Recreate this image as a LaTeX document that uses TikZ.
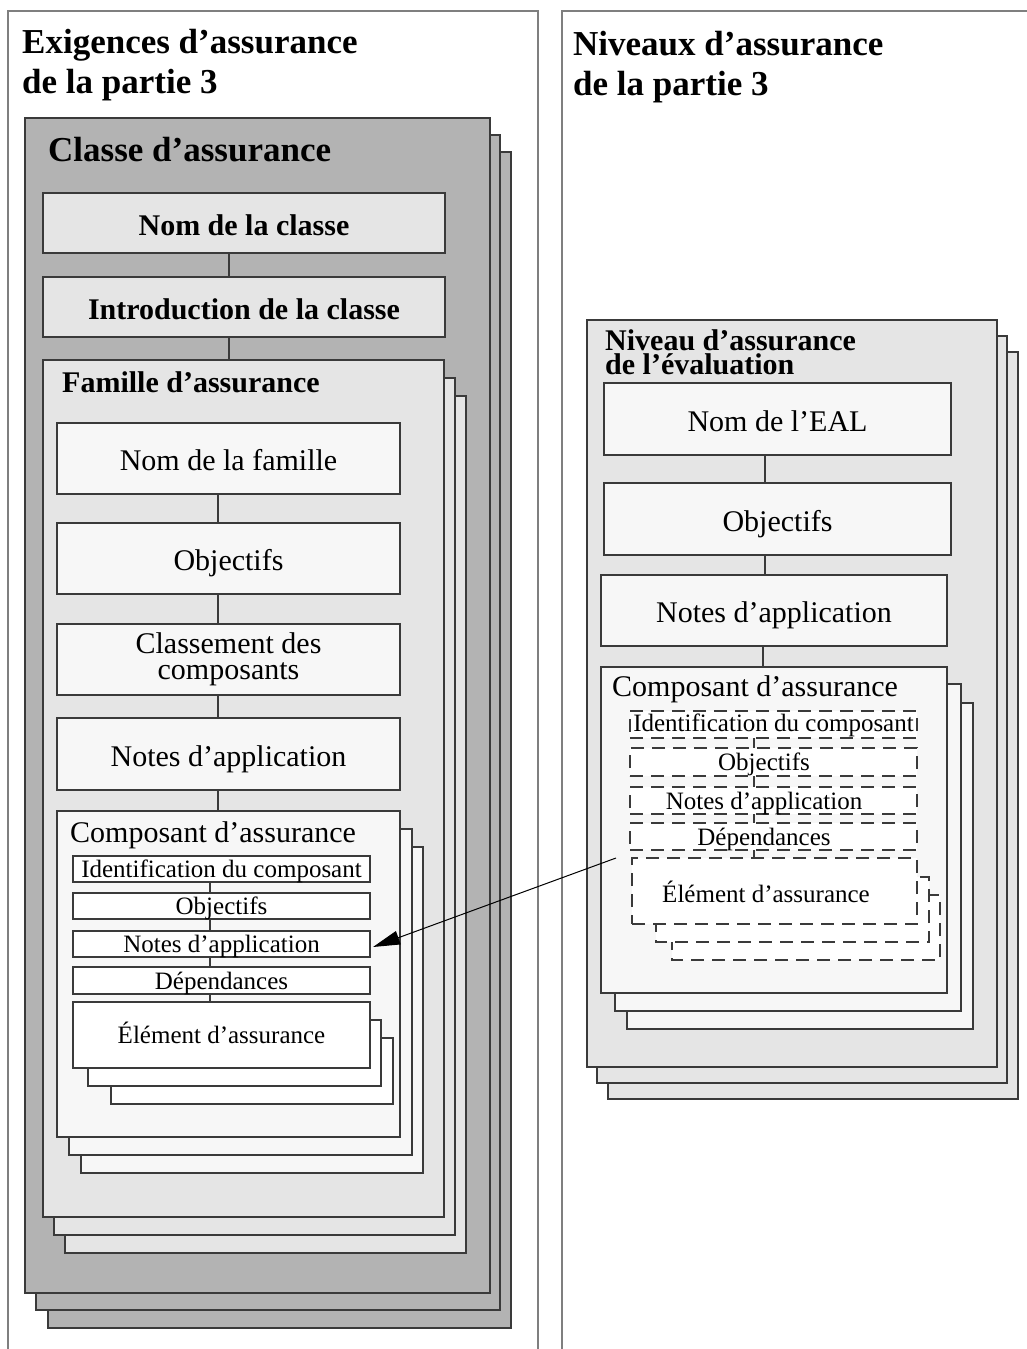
\documentclass[tikz,border=0pt]{standalone}
\usepackage{fontspec}
\setmainfont{Liberation Serif}
\usetikzlibrary{arrows.meta}
\definecolor{classgray}{HTML}{B3B3B3}
\definecolor{famgray}{HTML}{E5E5E5}
\definecolor{paper}{HTML}{F7F7F7}
\definecolor{ink}{HTML}{3A3A3A}
\definecolor{framegray}{HTML}{7F7F7F}
% a sheet lying behind the front sheet of a stack
\newcommand\backsheet[3]{\draw[box,#1] #2 rectangle #3;}
\begin{document}
\begin{tikzpicture}[x=1pt,y=-1pt,
  box/.style={draw=ink, line width=1.1pt, inner sep=0pt, outer sep=0pt},
  sz/.style 2 args={minimum width=#1, minimum height=#2},
  big/.style={font=\fontsize{30}{25}\selectfont, text height=24pt, text depth=0pt},
  bigb/.style={font=\fontsize{30}{25}\selectfont\bfseries, text height=24pt, text depth=0pt},
  small/.style={font=\fontsize{25}{21}\selectfont, text height=17pt, text depth=0pt},
  title/.style={font=\fontsize{35}{40}\selectfont\bfseries, anchor=base west, inner sep=0pt},
  head/.style={font=\fontsize{30}{25}\selectfont\bfseries, anchor=base west, inner sep=0pt},
  headreg/.style={font=\fontsize{30}{25}\selectfont, anchor=base west, inner sep=0pt},
  label/.style={font=\fontsize{25}{21}\selectfont, anchor=base, inner sep=0pt},
  dashline/.style={dash pattern=on 13pt off 8pt},
  link/.style={draw=ink, line width=1.1pt},
  frame/.style={draw=framegray, line width=1.6pt},
  arrow/.style={draw=black, line width=1pt, -{Triangle[length=27pt,width=14pt]}}
]
\useasboundingbox (0,0) rectangle (1027,1349);

% the two panels, open at the bottom
\draw[frame] (8,1349) -- (8,11) -- (538,11) -- (538,1349);
\draw[frame] (562,1349) -- (562,11) -- (1027,11);

\node[title] (titleL1) at (22,53) {Exigences d’assurance};
\node[title] (titleL2) at (22,93) {de la partie 3};
\node[title] (titleR1) at (573,55) {Niveaux d’assurance};
\node[title] (titleR2) at (573,95) {de la partie 3};

% ---------- assurance class ----------
\backsheet{fill=classgray}{(48,152)}{(511,1328)}
\backsheet{fill=classgray}{(36,135)}{(500,1310)}
\node[box, fill=classgray, sz={465}{1175}] (classe) at (257.5,705.5) {};
\node[title] (classetitle) at (48,161) {Classe d’assurance};

\node[box, fill=famgray, sz={402}{60}, bigb] (nomclasse) at (244,223) {Nom de la classe};
\node[box, fill=famgray, sz={402}{60}, bigb] (intro) at (244,307) {Introduction de la classe};
\draw[link] ([xshift=-15pt]nomclasse.south) -- ([xshift=-15pt]intro.north);

% ---------- assurance family ----------
\backsheet{fill=famgray}{(65,396)}{(466,1253)}
\backsheet{fill=famgray}{(54,378)}{(455,1235)}
\node[box, fill=famgray, sz={401}{857}] (famille) at (243.5,788.5) {};
\draw[link] ([xshift=-15pt]intro.south) -- ([xshift=-14.5pt]famille.north);
\node[head] (familletitle) at (62,392) {Famille d’assurance};

\node[box, fill=paper, sz={343}{71}, big] (nomfam) at (228.5,458.5) {Nom de la famille};
\node[box, fill=paper, sz={343}{71}, big] (objfam) at (228.5,558.5) {Objectifs};
\node[box, fill=paper, sz={343}{71}, font=\fontsize{30}{26}\selectfont, align=center] (classement) at (228.5,659.5) {Classement des\\composants};
\node[box, fill=paper, sz={343}{72}, big] (notesfam) at (228.5,754) {Notes d’application};
\draw[link] ([xshift=-10.5pt]nomfam.south) -- ([xshift=-10.5pt]objfam.north);
\draw[link] ([xshift=-10.5pt]objfam.south) -- ([xshift=-10.5pt]classement.north);
\draw[link] ([xshift=-10.5pt]classement.south) -- ([xshift=-10.5pt]notesfam.north);

% ---------- assurance component (class side) ----------
\backsheet{fill=paper}{(81,847)}{(423,1173)}
\backsheet{fill=paper}{(69,829)}{(412,1155)}
\node[box, fill=paper, sz={343}{326}] (compL) at (228.5,974) {};
\draw[link] ([xshift=-10.5pt]notesfam.south) -- ([xshift=-10.5pt]compL.north);
\node[headreg] (compLtitle) at (70,842) {Composant d’assurance};

\node[box, fill=white, sz={297}{26}, small] (identL) at (221.5,869) {Identification du composant};
\node[box, fill=white, sz={297}{26}, small] (objL) at (221.5,906) {Objectifs};
\node[box, fill=white, sz={297}{26}, small] (notesL) at (221.5,944) {Notes d’application};
\node[box, fill=white, sz={297}{27}, small] (depL) at (221.5,980.5) {Dépendances};
\backsheet{fill=white}{(111,1038)}{(393,1104)}
\backsheet{fill=white}{(88,1020)}{(381,1086)}
\node[box, fill=white, sz={297}{66}, small] (elemL) at (221.5,1035) {Élément d’assurance};
\draw[link] ([xshift=-11.5pt]identL.south) -- ([xshift=-11.5pt]objL.north);
\draw[link] ([xshift=-11.5pt]objL.south) -- ([xshift=-11.5pt]notesL.north);
\draw[link] ([xshift=-11.5pt]notesL.south) -- ([xshift=-11.5pt]depL.north);
\draw[link] ([xshift=-11.5pt]depL.south) -- ([xshift=-11.5pt]elemL.north);

% ---------- evaluation assurance level ----------
\backsheet{fill=famgray}{(608,352)}{(1018,1099)}
\backsheet{fill=famgray}{(597,336)}{(1007,1083)}
\node[box, fill=famgray, sz={410}{747}] (niveau) at (792,693.5) {};
\node[head] (niveautitle1) at (605,350) {Niveau d’assurance};
\node[head] (niveautitle2) at (605,374) {de l’évaluation};

\node[box, fill=paper, sz={347}{72}, big] (nomeal) at (777.5,419) {Nom de l’EAL};
\node[box, fill=paper, sz={347}{72}, big] (objR) at (777.5,519) {Objectifs};
\node[box, fill=paper, sz={346}{71}, big] (notesR) at (774,610.5) {Notes d’application};
\draw[link] ([xshift=-12.5pt]nomeal.south) -- ([xshift=-12.5pt]objR.north);
\draw[link] ([xshift=-12.5pt]objR.south) -- ([xshift=-9pt]notesR.north);

% ---------- assurance component (level side) ----------
\backsheet{fill=paper}{(627,703)}{(973,1029)}
\backsheet{fill=paper}{(615,684)}{(961,1011)}
\node[box, fill=paper, sz={346}{326}] (compR) at (774,830) {};
\draw[link] ([xshift=-11pt]notesR.south) -- ([xshift=-11pt]compR.north);
\node[headreg] (compRtitle) at (612,696) {Composant d’assurance};

\node[box, dashline, fill=white, sz={287}{27}] (identR) at (773.5,724.5) {};
\node[box, dashline, fill=white, sz={287}{28}] (objR2) at (773.5,762) {};
\node[box, dashline, fill=white, sz={287}{27}] (notesR2) at (773.5,800.5) {};
\node[box, dashline, fill=white, sz={287}{27}] (depR) at (773.5,836.5) {};
\backsheet{dashline, fill=white}{(672,895)}{(940,960)}
\backsheet{dashline, fill=white}{(656,877)}{(929,942)}
\node[box, dashline, fill=white, sz={285}{66}] (elemR) at (774.5,891) {};
\node[label] (identRtxt) at (773.5,731) {Identification du composant};
\node[label] (objR2txt) at (764,770.5) {Objectifs};
\node[label] (notesR2txt) at (764,809) {Notes d’application};
\node[label] (depRtxt) at (764,845) {Dépendances};
\node[label] (elemRtxt) at (766,902) {Élément d’assurance};
\draw[link, dashline] ([xshift=-19.5pt]identR.south) -- ([xshift=-19.5pt]objR2.north);
\draw[link, dashline] ([xshift=-19.5pt]objR2.south) -- ([xshift=-19.5pt]notesR2.north);
\draw[link, dashline] ([xshift=-19.5pt]notesR2.south) -- ([xshift=-19.5pt]depR.north);
\draw[link, dashline] ([xshift=-19.5pt]depR.south) -- ([xshift=-20.5pt]elemR.north);

% ---------- reference from the level component to the class component ----------
\coordinate (refsrc) at ([xshift=-16pt]elemR.north west);
\coordinate (reftgt) at ([shift={(3,3)}]notesL.east);
\draw[arrow] (refsrc) -- (reftgt);
\end{tikzpicture}
\end{document}
